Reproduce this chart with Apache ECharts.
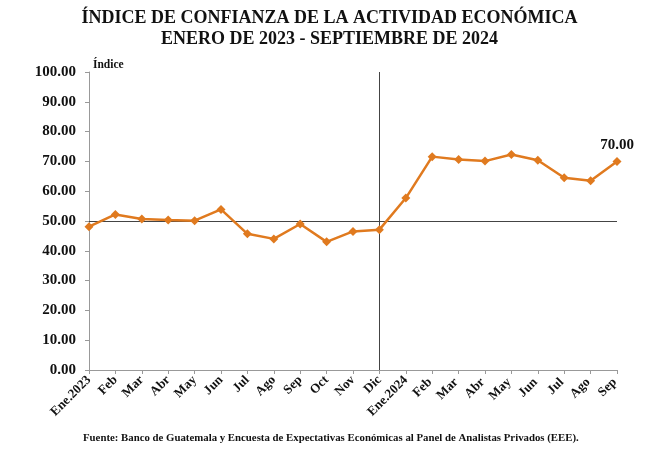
<!DOCTYPE html>
<html><head><meta charset="utf-8">
<script src="https://cdn.jsdelivr.net/npm/echarts@6/dist/echarts.min.js"></script>
<style>html,body{margin:0;padding:0;background:#fff}#c{width:659px;height:461px}</style>
</head><body><div id="c"></div>
<script>
const categories = ['Ene.2023','Feb','Mar','Abr','May','Jun','Jul','Ago','Sep','Oct','Nov','Dic','Ene.2024','Feb ','Mar ','Abr ','May ','Jun ','Jul ','Ago ','Sep '];
const indice = [48.1,52.2,50.7,50.3,50.1,53.9,45.7,44.0,49.0,43.0,46.5,47.1,57.7,71.6,70.6,70.1,72.3,70.4,64.5,63.5,70.0];
const yTicks = [0,10,20,30,40,50,60,70,80,90,100];
const refLevel = 50;
const divider = 'Dic';
const titleText = 'ÍNDICE DE CONFIANZA DE LA ACTIVIDAD ECONÓMICA\nENERO DE 2023 - SEPTIEMBRE DE 2024';
const sourceText = 'Fuente: Banco de Guatemala y Encuesta de Expectativas Económicas al Panel de Analistas Privados (EEE).';
const FONT = '"Liberation Serif", "DejaVu Serif", serif';
const chart = echarts.init(document.getElementById('c'));
chart.setOption({
  animation:false,
  textStyle:{fontFamily:FONT},
  title:{text:titleText,left:'center',top:3,itemGap:0,
    textStyle:{fontFamily:FONT,fontWeight:'bold',fontSize:18,color:'#111',lineHeight:21}},
  graphic:[
    {type:'text',left:83,top:433,style:{text:sourceText,font:'bold 10.8px '+FONT,fill:'#111'}},
    {type:'text',left:93,top:59,style:{text:'Índice',font:'bold 11.5px '+FONT,fill:'#111'}}
  ],
  grid:{left:89,right:42,top:72,bottom:91,containLabel:false},
  xAxis:{type:'category',data:categories,boundaryGap:false,
    axisLine:{lineStyle:{color:'#999'}},
    axisTick:{show:true,alignWithLabel:true,length:4,lineStyle:{color:'#999'}},
    axisLabel:{rotate:45,interval:0,fontWeight:'bold',fontSize:13,color:'#111',margin:8,fontFamily:FONT},
    splitLine:{show:false}},
  yAxis:{type:'value',min:0,max:100,interval:10,
    axisLine:{show:true,lineStyle:{color:'#999'}},
    axisTick:{show:true,length:4,lineStyle:{color:'#999'}},
    axisLabel:{formatter:v=>v.toFixed(2),fontWeight:'bold',fontSize:15,color:'#111',margin:13,fontFamily:FONT},
    splitLine:{show:false}},
  series:[{type:'line',data:indice,symbol:'diamond',symbolSize:9,
    lineStyle:{color:'#E07A1F',width:2.5},itemStyle:{color:'#E07A1F'},
    label:{show:true,position:'top',distance:4,fontWeight:'bold',fontSize:15,color:'#111',fontFamily:FONT,
      formatter:p=>p.dataIndex===indice.length-1?p.value.toFixed(2):''},
    markLine:{silent:true,symbol:'none',label:{show:false},z:1,
      data:[{yAxis:refLevel,lineStyle:{color:'#444',width:1,type:'solid'}},
            {xAxis:divider,lineStyle:{color:'#444',width:1,type:'solid'}}]}
  }]
});
</script></body></html>
